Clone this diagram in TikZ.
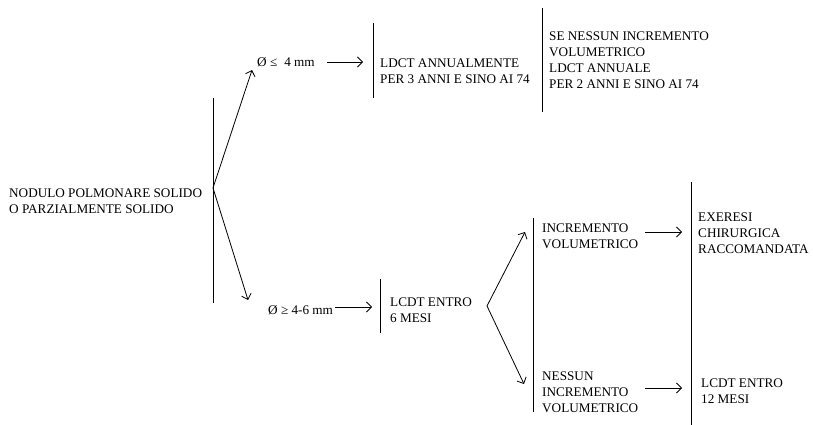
\documentclass[tikz,border=0pt]{standalone}
\usepackage{fontspec}
\setmainfont{Liberation Serif}
\usetikzlibrary{arrows.meta}
\begin{document}
\begin{tikzpicture}[x=1pt,y=-1pt,
  lbl/.style={anchor=west,align=left,inner sep=0pt,font=\fontsize{13.2}{16}\selectfont},
  bar/.style={line width=0.8pt},
  conn/.style={line width=0.8pt,-{Straight Barb[length=5pt,width=10pt]}}]
\useasboundingbox (0,0) rectangle (813,425);
% texts
\node[lbl] (nod) at (9,201) {NODULO POLMONARE SOLIDO\\O PARZIALMENTE SOLIDO};
\node[lbl] (le4) at (257,62) {Ø ≤\hspace{7pt}4 mm};
\node[lbl] (ld1) at (380,71) {LDCT ANNUALMENTE\\PER 3 ANNI E SINO AI 74};
\node[lbl] (se) at (549,60) {SE NESSUN INCREMENTO\\VOLUMETRICO\\LDCT ANNUALE\\PER 2 ANNI E SINO AI 74};
\node[lbl] (ge4) at (268,310) {Ø ≥ 4-6 mm};
\node[lbl] (lc6) at (390,310) {LCDT ENTRO\\6 MESI};
\node[lbl] (inc) at (542,236) {INCREMENTO\\VOLUMETRICO};
\node[lbl] (ninc) at (542,392) {NESSUN\\INCREMENTO\\VOLUMETRICO};
\node[lbl] (ex) at (698,233) {EXERESI\\CHIRURGICA\\RACCOMANDATA};
\node[lbl] (lc12) at (701,391) {LCDT ENTRO\\12 MESI};
% bars
\draw[bar] (213,98) -- (213,303);
\draw[bar] (373,23) -- (373,98);
\draw[bar] (542,8) -- (542,112);
\draw[bar] (380,279) -- (380,333);
\draw[bar] (533,218) -- (533,412);
\draw[bar] (691,182) -- (691,425);
% coordinates
\coordinate (v1) at (213,188);
\coordinate (t1) at (252,70);
\coordinate (t2) at (248,300);
\coordinate (v2) at (487,306);
\coordinate (t3) at (525,232);
\coordinate (t4) at (524,384);
\coordinate (a1s) at (327,62); \coordinate (a1e) at (363,62);
\coordinate (a2s) at (335,307); \coordinate (a2e) at (372,307);
\coordinate (a3s) at (645,232); \coordinate (a3e) at (682,232);
\coordinate (a4s) at (645,388); \coordinate (a4e) at (682,388);
% connectors
\draw[conn] (v1) -- (t1);
\draw[conn] (v1) -- (t2);
\draw[conn] (v2) -- (t3);
\draw[conn] (v2) -- (t4);
\draw[conn] (a1s) -- (a1e);
\draw[conn] (a2s) -- (a2e);
\draw[conn] (a3s) -- (a3e);
\draw[conn] (a4s) -- (a4e);
\end{tikzpicture}
\end{document}
